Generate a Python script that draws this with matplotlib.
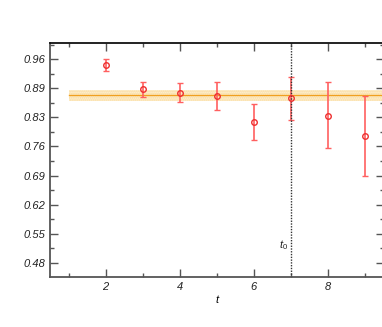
import numpy as np
import matplotlib
matplotlib.use("Agg")
import matplotlib.pyplot as plt
from matplotlib.ticker import FixedLocator, MultipleLocator

# dados
t = [2, 3, 4, 5, 6, 7, 8, 9]
valor = [0.946, 0.890, 0.881, 0.873, 0.812, 0.868, 0.827, 0.779]
err_sup = [0.960, 0.907, 0.904, 0.905, 0.854, 0.918, 0.905, 0.874]
err_inf = [0.932, 0.871, 0.858, 0.841, 0.769, 0.816, 0.750, 0.685]

fit_val = 0.875
fit_lo = 0.861
fit_hi = 0.887
fit_t = [1, 9.6]

t0 = 7
ytick_labels = ["0.48", "0.55", "0.62", "0.69", "0.76", "0.83", "0.89", "0.96"]

plt.rcParams["font.family"] = ["Liberation Sans", "DejaVu Sans"]
plt.rcParams["mathtext.fontset"] = "custom"
plt.rcParams["mathtext.it"] = "Liberation Sans:italic"
plt.rcParams["mathtext.rm"] = "Liberation Sans"

fig = plt.figure(figsize=(3.82, 3.27), dpi=100)
ax = fig.add_axes([0.131, 0.153, 0.873, 0.7155])

ax.fill_between(fit_t, [fit_lo] * 2, [fit_hi] * 2, facecolor="#fff0c8",
                edgecolor="#f5c060", hatch="........", linewidth=0, alpha=0.6)
ax.plot(fit_t, [fit_val] * 2, color="#f0a020", lw=1.0)

yerr = [np.array(valor) - np.array(err_inf), np.array(err_sup) - np.array(valor)]
ax.errorbar(t, valor, yerr=yerr, fmt="o", ms=4, mfc="none", mec="#ee3030",
            mew=1.0, ecolor="#ff6060", elinewidth=1.2, capsize=2.5,
            capthick=1.0)

ax.axvline(t0, color="#333333", ls=(0, (1, 1)), lw=1.0)
ax.text(6.8, 0.515, r"$t_{\mathit{0}}$", fontsize=8, ha="center",
        color="#222222")

ax.set_xlim(0.5, 9.5)
ax.set_ylim(0.447, 0.998)

ypos = np.linspace(0.48, 0.96, 8)
ax.yaxis.set_major_locator(FixedLocator(ypos))
ax.set_yticklabels(ytick_labels)
step = ypos[1] - ypos[0]
ax.yaxis.set_minor_locator(FixedLocator(np.arange(0.48 - step / 2, 1.0, step)))
ax.xaxis.set_major_locator(FixedLocator([2, 4, 6, 8]))
ax.xaxis.set_minor_locator(MultipleLocator(1))

ax.tick_params(which="both", direction="in", top=True, right=True,
               color="#555555", labelsize=8, labelcolor="#222222")
ax.tick_params(which="major", length=6, width=1.0)
ax.tick_params(which="minor", length=3, width=1.0)
for lab in ax.get_xticklabels() + ax.get_yticklabels():
    lab.set_style("italic")

for sp in ax.spines.values():
    sp.set_color("#555555")
    sp.set_linewidth(1.3)
ax.spines["top"].set_color("#111111")

ax.set_xlabel("t", fontsize=8, style="italic", labelpad=2)

fig.savefig("out.png", dpi=100)
